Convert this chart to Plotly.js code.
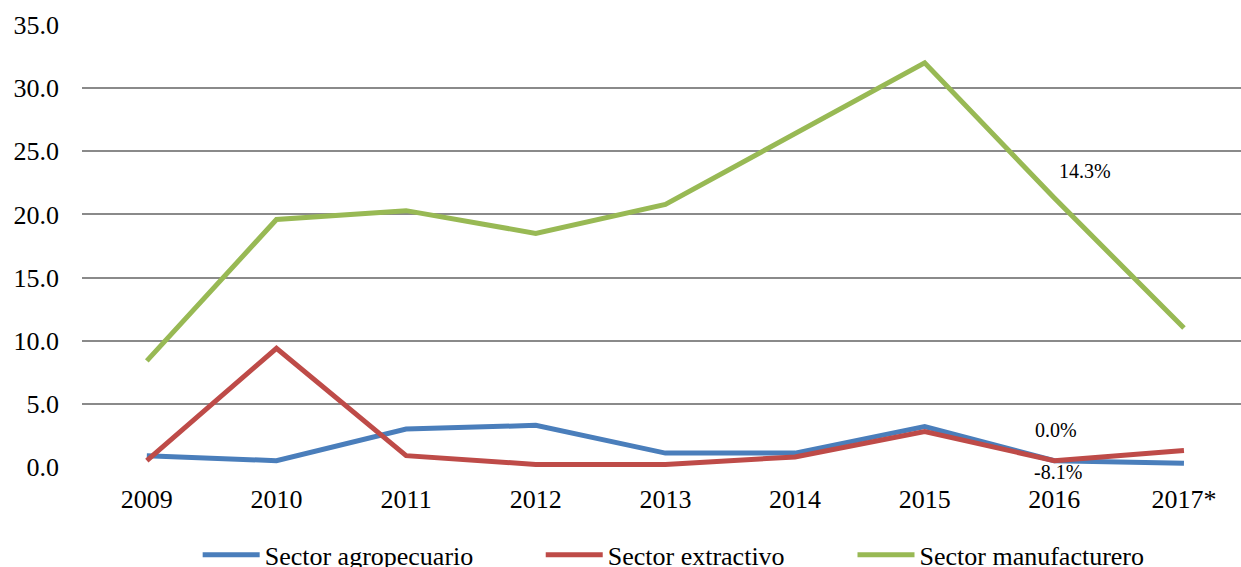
<!DOCTYPE html>
<html>
<head>
<meta charset="utf-8">
<script src="https://cdn.plot.ly/plotly-3.0.1.min.js"></script>
<style>
html,body{margin:0;padding:0;overflow:hidden;background:#fff;}
#chart{width:1241px;height:567px;}
</style>
</head>
<body>
<div id="chart"></div>
<script>
const years = ["2009","2010","2011","2012","2013","2014","2015","2016","2017*"];
const agropecuario = [0.9, 0.5, 3.0, 3.3, 1.1, 1.1, 3.2, 0.5, 0.3];
const extractivo = [0.5, 9.4, 0.9, 0.2, 0.2, 0.8, 2.8, 0.5, 1.3];
const manufacturero = [8.4, 19.6, 20.3, 18.5, 20.8, 26.4, 32.0, 21.3, 11.0];
const seriesNames = ["Sector agropecuario","Sector extractivo","Sector manufacturero"];
const labelTexts = ["14.3%", "0.0%", "-8.1%"];
const labelYears = ["2016", "2016", "2016"];
const labelY = [23.4, 2.9, 0];
const labelShiftX = [31, 2, 4];
const labelShiftY = [0, 0, -5];

const font = "Liberation Serif";
const colors = ["#4a7ebb", "#be4b48", "#98b954"];
const legendIds = ["legend", "legend2", "legend3"];
const legendX = [0.0998, 0.3958, 0.6648];

const data = [agropecuario, extractivo, manufacturero].map((vals, i) => ({
  x: years, y: vals, type: "scatter", mode: "lines", name: seriesNames[i],
  line: {color: colors[i], width: 5}, legend: legendIds[i]
}));

const annotations = labelTexts.map((t, i) => ({
  x: years.indexOf(labelYears[i]), y: labelY[i], xref: "x", yref: "y", text: t,
  showarrow: false, xshift: labelShiftX[i], yshift: labelShiftY[i],
  font: {family: font, size: 20, color: "#000000"}
}));

const layout = {
  width: 1241, height: 567,
  margin: {l: 82, r: 0, t: 25, b: 100, autoexpand: false},
  paper_bgcolor: "#ffffff", plot_bgcolor: "#ffffff",
  showlegend: true,
  xaxis: {type: "category", range: [-0.5, 8.44], showgrid: false, zeroline: false,
    showline: false, ticks: "", ticklabelstandoff: 14,
    tickfont: {family: font, size: 26, color: "#000000"}},
  yaxis: {range: [0, 35], dtick: 5, tickformat: ".1f", showgrid: true,
    gridcolor: "#8a8a8a", gridwidth: 2, zeroline: false, showline: false,
    ticks: "", ticklabelstandoff: 22,
    tickfont: {family: font, size: 26, color: "#000000"}},
  annotations: annotations
};
legendIds.forEach((id, i) => {
  layout[id] = {orientation: "h", x: legendX[i], xanchor: "left", y: -0.199, yanchor: "middle",
    itemwidth: 57, bgcolor: "rgba(0,0,0,0)",
    font: {family: font, size: 26, color: "#000000"}};
});

Plotly.newPlot("chart", data, layout, {displayModeBar: false, staticPlot: true});
</script>
</body>
</html>
